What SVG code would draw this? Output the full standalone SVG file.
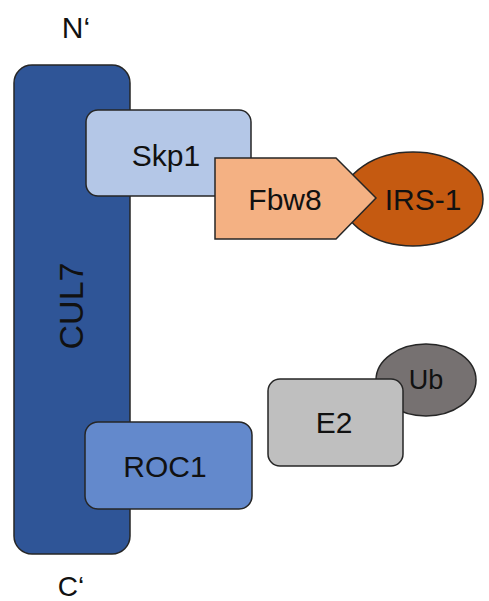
<svg xmlns="http://www.w3.org/2000/svg" width="489" height="601" viewBox="0 0 489 601">
<style>
.s{stroke:#262626;stroke-width:1.5}
.t{font-family:"Liberation Sans",Arial,sans-serif;fill:#111;text-anchor:middle;dominant-baseline:central;font-size:30px}
</style>
<rect width="489" height="601" fill="#fff"/>
<g id="connectors"></g>
<g id="CUL7">
<rect class="s" x="14" y="65" width="116" height="489" rx="18" fill="#2F5597"/>
<text class="t" style="font-size:34px" transform="translate(71,306) rotate(-90)">CUL7</text>
</g>
<g id="Skp1">
<rect class="s" x="86" y="110" width="165" height="86" rx="12" fill="#B4C7E7"/>
<text class="t" x="166" y="155">Skp1</text>
</g>
<g id="IRS-1">
<ellipse class="s" cx="413" cy="199" rx="70" ry="47" fill="#C55A11"/>
<text class="t" x="423" y="199">IRS-1</text>
</g>
<g id="Fbw8">
<polygon class="s" points="215,158 336,158 376,198 336,239 215,239" fill="#F4B183"/>
<text class="t" x="285" y="199">Fbw8</text>
</g>
<g id="Ub">
<ellipse class="s" cx="426" cy="380" rx="50" ry="36" fill="#767171"/>
<text class="t" style="font-size:27px" x="426" y="380">Ub</text>
</g>
<g id="E2">
<rect class="s" x="268" y="379" width="135" height="87" rx="12" fill="#BFBFBF"/>
<text class="t" x="334" y="422">E2</text>
</g>
<g id="ROC1">
<rect class="s" x="85" y="422" width="167" height="87" rx="13" fill="#6389CC"/>
<text class="t" x="165" y="466">ROC1</text>
</g>
<g id="labels">
<text class="t" x="76" y="27">N‘</text>
<text class="t" style="font-size:28px" x="71" y="586">C‘</text>
</g>
</svg>
